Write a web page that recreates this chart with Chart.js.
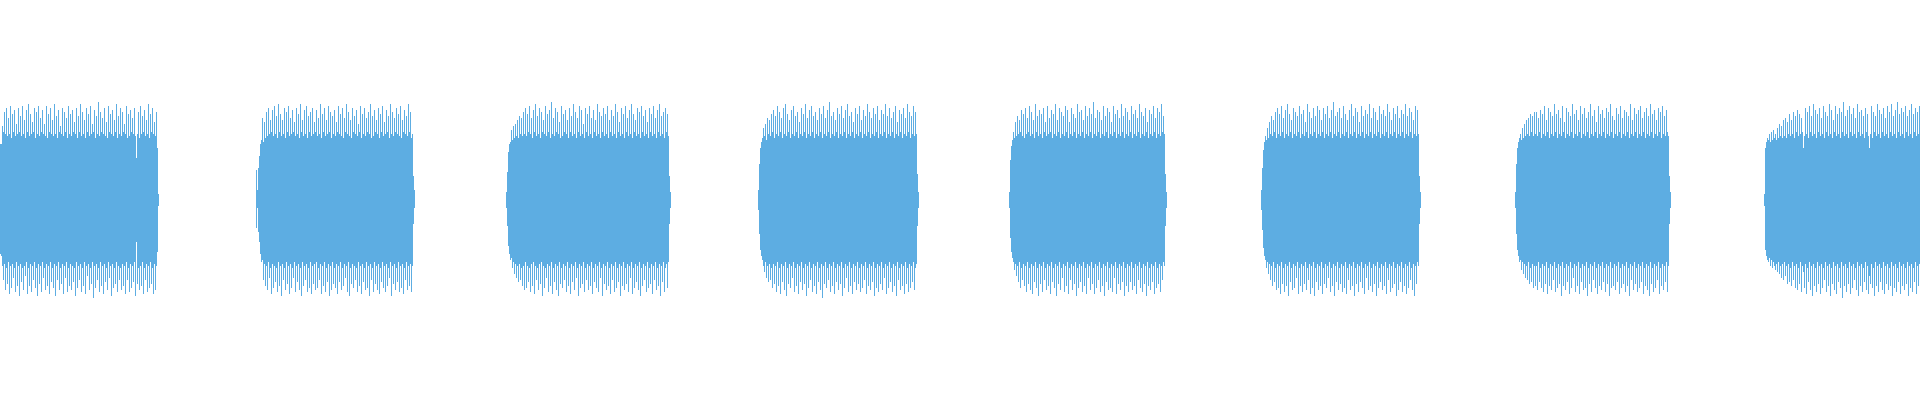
<!DOCTYPE html>
<html><head><meta charset="utf-8">
<style>html,body{margin:0;padding:0;background:#fff;overflow:hidden}#wrap{width:1920px;height:400px}</style>
<script src="https://cdn.jsdelivr.net/npm/chart.js@4/dist/chart.umd.min.js"></script>
</head><body><div id="wrap"><canvas id="c" width="1920" height="400"></canvas></div>
<script>
// Waveform: per-column amplitude range (percent of full scale)
const sampleCount = 1920;
const burstStarts = [0, 256, 506, 758, 1009, 1261, 1515, 1764];

const burst1High = [28,28,37,34,44,33,46,32,41,33,47,31,43,34,45,32,38,33,46,34,
42,32,47,33,40,31,45,34,48,32,43,33,39,34,46,31,44,33,47,32,
41,34,45,33,38,32,47,31,43,34,46,33,40,32,48,33,42,31,45,34,
37,33,46,32,44,34,41,31,47,33,43,32,45,34,39,33,46,31,42,34,
48,32,44,33,40,31,46,34,43,32,47,33,38,34,45,31,42,33,49,32,
44,34,41,33,46,32,39,31,47,34,43,33,45,32,40,34,48,31,42,33,
46,32,44,34,38,33,47,31,43,32,45,34,41,33,46,32,21,33,44,31,
47,33,42,34,45,32,40,33,48,31,43,34,46,33,39,32,44,26,3];
const burst1Low = [-27,-28,-33,-40,-32,-45,-34,-42,-31,-47,-33,-44,-32,-39,-34,-46,-31,-43,-33,-48,
-32,-41,-34,-45,-33,-38,-31,-47,-34,-43,-32,-46,-33,-40,-31,-44,-34,-48,-32,-42,
-33,-46,-31,-39,-34,-45,-32,-43,-33,-47,-31,-41,-34,-44,-32,-48,-33,-40,-31,-45,
-34,-42,-32,-47,-33,-39,-31,-46,-34,-43,-32,-45,-33,-41,-34,-48,-31,-44,-33,-40,
-32,-46,-34,-43,-31,-47,-33,-38,-32,-45,-34,-42,-31,-49,-33,-44,-32,-40,-34,-46,
-31,-43,-33,-47,-32,-41,-34,-45,-31,-39,-33,-48,-32,-44,-34,-42,-31,-46,-33,-40,
-34,-45,-32,-43,-33,-47,-31,-40,-34,-46,-32,-44,-33,-41,-31,-48,-21,-42,-34,-45,
-33,-43,-31,-47,-34,-40,-32,-46,-33,-44,-31,-42,-34,-47,-32,-45,-33,-26,-3];

const burst2High = [15,5,16,22,28,30,41,29,39,31,44,32,46,33,40,34,45,32,47,33,
42,31,48,34,43,32,40,33,46,31,44,34,47,32,41,33,45,34,39,32,
46,33,43,31,48,34,40,32,45,33,47,31,42,34,44,32,46,33,39,34,
45,32,41,33,48,31,43,34,46,32,40,33,47,34,44,31,42,33,45,32,
39,34,47,33,43,32,46,31,41,34,48,33,44,32,40,31,46,34,42,33,
45,32,38,34,47,31,43,33,46,32,41,34,44,33,48,31,42,32,45,34,
40,33,46,31,43,34,47,32,39,33,45,34,42,31,48,33,44,32,41,34,
46,33,43,32,47,31,40,34,45,33,42,32,48,34,44,31,33,12,5];
const burst2Low = [-14,-4,-16,-21,-27,-31,-30,-40,-32,-43,-33,-45,-31,-39,-34,-47,-32,-44,-33,-41,
-34,-46,-31,-43,-33,-48,-32,-40,-34,-45,-31,-42,-33,-47,-32,-44,-34,-39,-31,-46,
-33,-41,-32,-45,-34,-48,-31,-43,-33,-40,-32,-46,-34,-44,-31,-47,-33,-42,-32,-45,
-31,-44,-34,-40,-32,-47,-33,-43,-31,-46,-34,-41,-32,-48,-33,-45,-31,-42,-34,-44,
-32,-47,-33,-41,-31,-45,-34,-43,-32,-39,-33,-46,-31,-48,-34,-42,-32,-44,-33,-40,
-34,-46,-31,-43,-33,-47,-32,-41,-34,-45,-31,-44,-33,-48,-32,-40,-34,-46,-31,-42,
-33,-45,-32,-47,-34,-41,-31,-44,-33,-46,-32,-43,-34,-39,-31,-48,-33,-42,-32,-45,
-34,-41,-31,-46,-33,-44,-32,-47,-34,-40,-31,-45,-33,-43,-32,-46,-33,-12,-4];

const burst3High = [4,14,24,28,29,35,30,37,31,38,32,40,31,42,33,41,32,44,33,46,
32,43,34,47,33,41,31,45,34,48,32,42,33,46,31,44,34,40,33,47,
32,43,34,45,31,49,33,41,32,46,34,44,33,39,31,47,32,43,34,45,
33,40,31,46,34,42,32,48,33,44,31,41,34,47,32,45,33,38,31,46,
34,43,32,47,33,41,31,45,34,40,32,48,33,44,31,42,34,46,32,43,
33,47,31,40,34,45,32,42,33,48,31,44,34,39,32,46,33,43,31,47,
34,41,32,45,33,48,31,43,34,40,32,46,33,44,31,47,34,42,32,45,
33,39,31,46,34,43,32,47,33,41,31,45,34,48,32,42,33,44,31,46,
34,43,32,12,4];
const burst3Low = [-4,-13,-23,-27,-30,-29,-34,-31,-37,-32,-39,-33,-41,-32,-40,-34,-43,-33,-45,-31,
-44,-33,-41,-34,-46,-32,-43,-31,-47,-33,-40,-34,-45,-32,-42,-31,-48,-33,-44,-34,
-39,-32,-46,-33,-43,-31,-47,-34,-41,-32,-45,-33,-48,-31,-42,-34,-44,-32,-40,-33,
-46,-31,-43,-34,-47,-32,-41,-33,-45,-31,-39,-34,-48,-32,-44,-33,-42,-31,-46,-34,
-40,-32,-45,-33,-43,-31,-47,-34,-41,-32,-44,-33,-46,-31,-39,-34,-48,-32,-42,-33,
-45,-31,-43,-34,-47,-32,-40,-33,-46,-31,-44,-34,-41,-32,-48,-33,-43,-31,-45,-34,
-42,-32,-46,-33,-39,-31,-47,-34,-44,-32,-41,-33,-45,-31,-48,-34,-43,-32,-40,-33,
-46,-31,-44,-34,-42,-32,-47,-33,-40,-31,-45,-34,-43,-32,-48,-33,-41,-31,-46,-34,
-32,-44,-31,-12,-4];

const burst4High = [5,18,26,29,31,36,32,38,30,41,33,40,32,43,34,45,31,42,33,47,
32,44,34,41,31,46,33,48,32,43,34,40,31,45,33,47,32,42,34,44,
31,39,33,46,32,43,34,48,31,41,33,45,32,47,34,42,31,44,33,40,
32,46,34,43,31,47,33,41,32,45,34,49,31,42,33,44,32,40,34,46,
31,43,33,47,32,41,34,45,31,48,33,42,32,44,34,39,31,46,33,43,
32,47,34,40,31,45,33,42,32,48,34,44,31,41,33,46,32,43,34,47,
31,40,33,45,32,43,34,48,31,42,33,46,32,41,34,44,31,47,33,39,
32,45,34,43,31,46,33,41,32,48,34,44,31,42,33,47,32,44,33,13,
4];
const burst4Low = [-5,-17,-25,-28,-30,-33,-36,-31,-39,-33,-41,-32,-40,-34,-44,-32,-42,-33,-46,-31,
-43,-34,-47,-32,-41,-33,-45,-31,-48,-34,-42,-32,-44,-33,-39,-31,-46,-34,-43,-32,
-47,-33,-41,-31,-45,-34,-42,-32,-48,-33,-44,-31,-40,-34,-46,-32,-43,-33,-47,-31,
-41,-34,-45,-32,-49,-33,-42,-31,-44,-34,-40,-32,-46,-33,-43,-31,-47,-34,-41,-32,
-45,-33,-42,-31,-48,-34,-44,-32,-39,-33,-46,-31,-43,-34,-47,-32,-41,-33,-45,-31,
-42,-34,-46,-32,-44,-33,-40,-31,-47,-34,-43,-32,-45,-33,-41,-31,-48,-34,-44,-32,
-46,-33,-42,-31,-45,-34,-39,-32,-47,-33,-44,-31,-41,-34,-46,-32,-43,-33,-48,-31,
-40,-34,-45,-32,-43,-33,-47,-31,-42,-34,-46,-32,-44,-33,-41,-31,-45,-34,-32,-13,
-4];

const burst5High = [4,20,27,30,34,31,39,32,42,33,40,34,45,32,43,31,46,33,41,34,
47,32,44,33,40,31,48,34,42,32,45,33,43,31,46,34,39,32,47,33,
41,34,45,31,43,33,48,32,40,34,46,31,44,33,42,32,47,34,45,31,
39,33,46,32,43,34,41,31,48,33,44,32,45,34,40,31,47,33,42,32,
46,34,43,31,49,33,41,32,45,34,44,31,40,33,47,32,42,34,46,31,
44,33,39,32,47,34,43,31,45,33,41,32,48,34,42,31,46,33,44,32,
40,34,47,31,43,33,45,32,41,34,48,31,44,33,42,32,46,34,39,31,
45,33,43,32,47,34,41,31,46,33,44,32,48,34,42,33,13,4];
const burst5Low = [-4,-19,-26,-29,-31,-35,-32,-38,-33,-41,-31,-44,-34,-40,-32,-43,-33,-46,-31,-42,
-34,-45,-32,-47,-33,-41,-31,-44,-34,-48,-32,-42,-33,-46,-31,-40,-34,-45,-32,-43,
-33,-47,-31,-41,-34,-44,-32,-48,-33,-42,-31,-45,-34,-39,-32,-46,-33,-43,-31,-47,
-34,-40,-32,-45,-33,-42,-31,-48,-34,-44,-32,-41,-33,-46,-31,-43,-34,-47,-32,-39,
-33,-45,-31,-42,-34,-47,-32,-44,-33,-40,-31,-46,-34,-43,-32,-48,-33,-41,-31,-45,
-34,-44,-32,-46,-33,-39,-31,-47,-34,-42,-32,-45,-33,-41,-31,-48,-34,-43,-32,-46,
-33,-41,-31,-45,-34,-43,-32,-47,-33,-40,-31,-44,-34,-46,-32,-42,-33,-48,-31,-43,
-34,-45,-32,-41,-33,-47,-31,-44,-34,-42,-32,-46,-33,-40,-31,-33,-13,-4];

const burst6High = [5,16,25,29,32,30,36,31,39,33,42,32,40,34,44,31,46,33,43,32,
47,34,41,31,45,33,48,32,43,34,40,31,46,33,44,32,42,34,47,31,
43,33,45,32,39,34,48,31,44,33,41,32,46,34,42,31,47,33,45,32,
40,34,46,31,43,33,47,32,41,34,45,31,49,33,42,32,44,34,46,31,
41,33,47,32,43,34,40,31,45,33,48,32,42,34,46,31,44,33,39,32,
47,34,42,31,45,33,43,32,48,34,41,31,46,33,44,32,40,34,47,31,
43,33,45,32,42,34,48,31,44,33,40,32,46,34,43,31,47,33,41,32,
45,34,43,31,48,33,42,32,46,34,44,31,40,33,47,32,45,33,12,4];
const burst6Low = [-5,-15,-24,-28,-30,-34,-31,-37,-32,-40,-33,-43,-31,-41,-34,-45,-32,-44,-33,-47,
-31,-42,-34,-46,-32,-43,-33,-48,-31,-41,-34,-45,-32,-44,-33,-39,-31,-47,-34,-43,
-32,-46,-33,-42,-31,-45,-34,-40,-32,-47,-33,-44,-31,-48,-34,-41,-32,-45,-33,-43,
-31,-47,-34,-42,-32,-44,-33,-39,-31,-46,-34,-43,-32,-48,-33,-41,-31,-45,-34,-42,
-32,-46,-33,-44,-31,-47,-34,-40,-32,-45,-33,-43,-31,-48,-34,-42,-32,-46,-33,-41,
-31,-44,-34,-47,-32,-39,-33,-45,-31,-43,-34,-46,-32,-42,-33,-48,-31,-44,-34,-41,
-32,-45,-33,-43,-31,-47,-34,-40,-32,-46,-33,-44,-31,-42,-34,-48,-32,-45,-33,-41,
-31,-46,-34,-43,-32,-47,-33,-44,-31,-40,-34,-45,-32,-48,-33,-42,-31,-33,-12,-4];

const burst7High = [4,18,26,29,31,33,30,36,31,38,32,40,33,41,32,43,34,42,32,44,
33,44,32,41,34,45,31,43,33,47,32,40,34,46,31,44,33,42,32,48,
34,43,31,45,33,41,32,47,34,39,31,46,33,44,32,42,34,48,31,43,
33,45,32,40,34,47,31,43,33,46,32,41,34,44,31,48,33,42,32,45,
34,39,31,47,33,43,32,45,34,41,31,46,33,44,32,48,34,42,31,40,
33,46,32,43,34,47,31,41,33,45,32,44,34,42,31,48,33,40,32,46,
34,43,31,45,33,47,32,41,34,44,31,46,33,42,32,48,34,43,31,45,
33,40,32,46,34,44,31,47,33,42,32,45,34,32,12,4];
const burst7Low = [-4,-17,-25,-28,-31,-30,-35,-31,-37,-32,-39,-33,-40,-31,-42,-34,-41,-32,-44,-33,
-43,-33,-45,-31,-41,-34,-44,-32,-46,-33,-42,-31,-47,-34,-43,-32,-45,-33,-40,-31,
-46,-34,-44,-32,-42,-33,-48,-31,-43,-34,-45,-32,-41,-33,-47,-31,-44,-34,-39,-32,
-46,-33,-43,-31,-47,-34,-41,-32,-45,-33,-44,-31,-48,-34,-42,-32,-46,-33,-40,-31,
-44,-34,-47,-32,-43,-33,-45,-31,-41,-34,-46,-32,-42,-33,-48,-31,-44,-34,-43,-32,
-45,-33,-41,-31,-47,-34,-44,-32,-42,-33,-46,-31,-43,-34,-48,-32,-40,-33,-45,-31,
-42,-34,-46,-32,-44,-33,-41,-31,-47,-34,-43,-32,-45,-33,-48,-31,-42,-34,-46,-32,
-44,-33,-40,-31,-47,-34,-43,-32,-45,-33,-41,-31,-46,-33,-12,-4];

const burst8High = [3,26,29,31,30,33,29,34,30,35,31,33,30,36,31,38,32,37,31,40,
32,41,31,39,33,43,32,40,33,44,31,42,34,45,32,43,33,41,34,26,
32,46,33,44,31,47,34,42,32,48,33,45,31,43,34,46,32,41,33,47,
31,44,34,42,32,48,33,45,31,40,34,47,32,43,33,46,31,44,34,49,
32,42,33,45,31,47,34,43,32,46,33,41,31,48,34,44,32,45,33,42,
31,46,34,43,32,26,33,47,31,44,34,42,32,48,33,45,31,43,34,46,
32,41,33,47,31,44,34,48,32,42,33,45,31,49,34,43,32,46,33,44,
31,47,34,42,32,45,33,48,31,43,34,46,32,44,33,47];
const burst8Low = [-3,-25,-28,-30,-31,-29,-33,-30,-34,-31,-33,-35,-32,-36,-31,-37,-33,-39,-32,-40,
-31,-38,-33,-42,-32,-41,-34,-43,-31,-40,-33,-44,-32,-45,-34,-42,-31,-46,-33,-36,
-44,-32,-47,-34,-41,-31,-45,-33,-48,-32,-43,-34,-46,-31,-42,-33,-47,-32,-44,-34,
-40,-31,-46,-33,-43,-32,-48,-34,-42,-31,-45,-33,-47,-32,-41,-34,-44,-31,-49,-33,
-43,-32,-46,-34,-42,-31,-47,-33,-44,-32,-40,-34,-45,-31,-48,-33,-43,-32,-46,-34,
-41,-31,-45,-33,-47,-38,-42,-32,-44,-34,-48,-31,-43,-33,-46,-32,-41,-34,-45,-31,
-47,-33,-42,-32,-45,-34,-43,-31,-48,-33,-44,-32,-46,-34,-41,-31,-47,-33,-43,-32,
-45,-34,-42,-31,-48,-33,-44,-32,-46,-34,-41,-31,-47,-33,-43,-32];

const burstHighs = [burst1High, burst2High, burst3High, burst4High, burst5High, burst6High, burst7High, burst8High];
const burstLows = [burst1Low, burst2Low, burst3Low, burst4Low, burst5Low, burst6Low, burst7Low, burst8Low];

// Build the table Chart.js needs: one floating bar [low, high] per sample column
const labels = Array.from({length: sampleCount}, (_, i) => i);
const ranges = new Array(sampleCount).fill(null);
burstStarts.forEach((start, b) => {
  burstHighs[b].forEach((h, i) => {
    const idx = start + i;
    const lo = burstLows[b][i] !== undefined ? burstLows[b][i] : -h;
    if (idx < sampleCount) ranges[idx] = [lo, h];
  });
});

new Chart(document.getElementById('c'), {
  type: 'bar',
  data: {
    labels: labels,
    datasets: [{
      label: 'Amplitude',
      data: ranges,
      backgroundColor: '#5DADE2',
      borderWidth: 0,
      inflateAmount: 0,
      barPercentage: 1,
      categoryPercentage: 1
    }]
  },
  options: {
    responsive: false,
    animation: false,
    devicePixelRatio: 1,
    layout: { padding: 0 },
    plugins: { legend: { display: false }, tooltip: { enabled: false } },
    scales: {
      x: { display: false },
      y: { display: false, min: -100, max: 100 }
    }
  }
});
</script>
</body></html>
